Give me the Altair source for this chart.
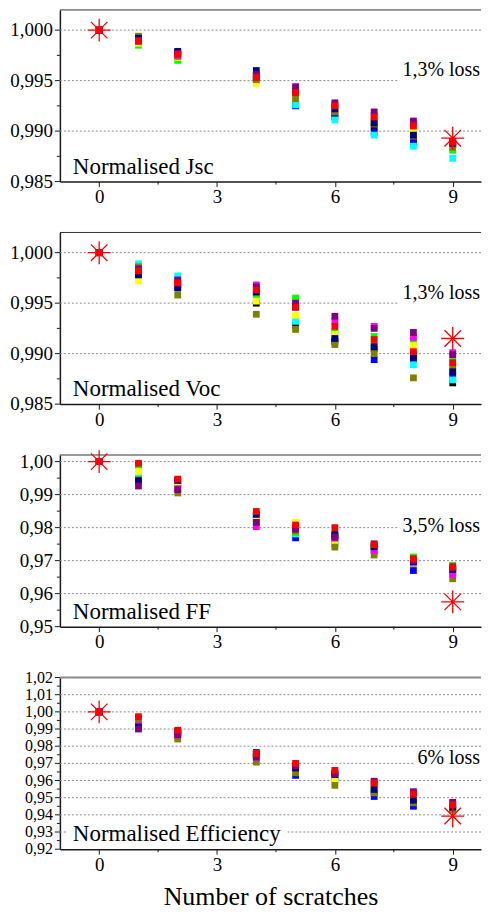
import altair as alt
import pandas as pd

X_SCRATCHES = [0, 1, 2, 4, 5, 6, 7, 8, 9]
SERIES = ["black", "blue", "cyan", "green", "yellow", "olive", "magenta", "navy", "purple", "red"]
COLORS = ["#000000", "#0000FF", "#00FFFF", "#00FF00", "#FFFF00", "#808000", "#FF00FF", "#000080", "#800080", "#FF0000"]

JSC = {
    "black":   [1.0, 0.9988, 0.9978, 0.9952, 0.9936, 0.9917, 0.9904, 0.9890, 0.9887],
    "blue":    [1.0, 0.9988, 0.9976, 0.9955, 0.9925, 0.9914, 0.9899, 0.9889, 0.9887],
    "cyan":    [1.0, 0.9987, 0.9973, 0.9950, 0.9926, 0.9911, 0.9896, 0.9885, 0.9873],
    "green":   [1.0, 0.9985, 0.9970, 0.9950, 0.9934, 0.9923, 0.9910, 0.9898, 0.9881],
    "yellow":  [1.0, 0.9987, 0.9973, 0.9947, 0.9936, 0.9922, 0.9911, 0.9902, 0.9886],
    "olive":   [1.0, 0.9994, 0.9974, 0.9951, 0.9932, 0.9919, 0.9907, 0.9895, 0.9884],
    "magenta": [1.0, 0.9989, 0.9975, 0.9954, 0.9942, 0.9926, 0.9915, 0.9908, 0.9889],
    "navy":    [1.0, 0.9992, 0.9979, 0.9960, 0.9939, 0.9922, 0.9908, 0.9896, 0.9888],
    "purple":  [1.0, 0.9990, 0.9977, 0.9956, 0.9944, 0.9928, 0.9919, 0.9910, 0.9890],
    "red":     [1.0, 0.9989, 0.9976, 0.9953, 0.9938, 0.9925, 0.9914, 0.9905, 0.9889],
}
VOC = {
    "black":   [1.0, 0.9979, 0.9968, 0.9950, 0.9928, 0.9912, 0.9905, 0.9899, 0.9871],
    "blue":    [1.0, 0.9978, 0.9966, 0.9960, 0.9946, 0.9914, 0.9894, 0.9894, 0.9879],
    "cyan":    [1.0, 0.9989, 0.9977, 0.9957, 0.9932, 0.9922, 0.9908, 0.9889, 0.9874],
    "green":   [1.0, 0.9980, 0.9970, 0.9958, 0.9955, 0.9921, 0.9917, 0.9912, 0.9894],
    "yellow":  [1.0, 0.9972, 0.9969, 0.9952, 0.9938, 0.9919, 0.9911, 0.9908, 0.9885],
    "olive":   [1.0, 0.9986, 0.9958, 0.9939, 0.9924, 0.9909, 0.9900, 0.9876, 0.9887],
    "magenta": [1.0, 0.9983, 0.9972, 0.9968, 0.9949, 0.9932, 0.9927, 0.9916, 0.9901],
    "navy":    [1.0, 0.9978, 0.9965, 0.9961, 0.9947, 0.9915, 0.9907, 0.9896, 0.9882],
    "purple":  [1.0, 0.9984, 0.9973, 0.9966, 0.9950, 0.9937, 0.9925, 0.9921, 0.9899],
    "red":     [1.0, 0.9982, 0.9970, 0.9963, 0.9946, 0.9927, 0.9914, 0.9902, 0.9891],
}
FF = {
    "black":   [1.0, 0.9988, 0.9940, 0.9836, 0.9802, 0.9779, 0.9745, 0.9698, 0.9675],
    "blue":    [1.0, 0.9950, 0.9932, 0.9838, 0.9769, 0.9763, 0.9733, 0.9670, 0.9663],
    "cyan":    [1.0, 0.9961, 0.9930, 0.9830, 0.9781, 0.9750, 0.9738, 0.9697, 0.9670],
    "green":   [1.0, 0.9985, 0.9920, 0.9820, 0.9785, 0.9752, 0.9740, 0.9711, 0.9686],
    "yellow":  [1.0, 0.9970, 0.9925, 0.9825, 0.9816, 0.9757, 0.9735, 0.9694, 0.9665],
    "olive":   [1.0, 0.9945, 0.9905, 0.9815, 0.9790, 0.9741, 0.9717, 0.9692, 0.9645],
    "magenta": [1.0, 0.9940, 0.9918, 0.9803, 0.9796, 0.9768, 0.9730, 0.9695, 0.9658],
    "navy":    [1.0, 0.9942, 0.9943, 0.9840, 0.9800, 0.9777, 0.9742, 0.9697, 0.9673],
    "purple":  [1.0, 0.9926, 0.9915, 0.9816, 0.9795, 0.9771, 0.9751, 0.9701, 0.9678],
    "red":     [1.0, 0.9995, 0.9947, 0.9849, 0.9808, 0.9800, 0.9748, 0.9706, 0.9682],
}
EFF = {
    "black":   [1.0, 0.9960, 0.9882, 0.9752, 0.9667, 0.9628, 0.9540, 0.9478, 0.9435],
    "blue":    [1.0, 0.9930, 0.9878, 0.9750, 0.9630, 0.9620, 0.9507, 0.9450, 0.9432],
    "cyan":    [1.0, 0.9952, 0.9875, 0.9740, 0.9660, 0.9612, 0.9555, 0.9495, 0.9440],
    "green":   [1.0, 0.9948, 0.9860, 0.9730, 0.9655, 0.9605, 0.9560, 0.9490, 0.9438],
    "yellow":  [1.0, 0.9945, 0.9855, 0.9722, 0.9650, 0.9600, 0.9567, 0.9510, 0.9450],
    "olive":   [1.0, 0.9935, 0.9842, 0.9707, 0.9645, 0.9572, 0.9528, 0.9470, 0.9428],
    "magenta": [1.0, 0.9920, 0.9865, 0.9735, 0.9684, 0.9648, 0.9590, 0.9528, 0.9465],
    "navy":    [1.0, 0.9912, 0.9886, 0.9763, 0.9673, 0.9635, 0.9548, 0.9485, 0.9445],
    "purple":  [1.0, 0.9900, 0.9867, 0.9737, 0.9686, 0.9640, 0.9596, 0.9535, 0.9473],
    "red":     [1.0, 0.9972, 0.9893, 0.9758, 0.9700, 0.9659, 0.9585, 0.9520, 0.9458],
}

STAR_X = [0, 9]
STAR_JSC = [1.0, 0.9893]
STAR_VOC = [1.0, 0.9915]
STAR_FF = [1.0, 0.9575]
STAR_EFF = [1.0, 0.9393]

PANEL_LABELS = ["Normalised Jsc", "Normalised Voc", "Normalised FF", "Normalised Efficiency"]
LOSS_LABELS = ["1,3% loss", "1,3% loss", "3,5% loss", "6% loss"]
Y_DOMAINS = [[0.985, 1.002], [0.985, 1.002], [0.95, 1.002], [0.92, 1.02]]

MAJOR_A = [0.985, 0.99, 0.995, 1.0]
MINOR_A = [0.9875, 0.9925, 0.9975]
GRID_A = [0.99, 0.995, 1.0]
MAJOR_B = [0.95, 0.96, 0.97, 0.98, 0.99, 1.0]
MINOR_B = [0.955, 0.965, 0.975, 0.985, 0.995]
GRID_B = [0.96, 0.97, 0.98, 0.99, 1.0]
MAJOR_C = [0.92, 0.93, 0.94, 0.95, 0.96, 0.97, 0.98, 0.99, 1.0, 1.01, 1.02]
MINOR_C = [0.925, 0.935, 0.945, 0.955, 0.965, 0.975, 0.985, 0.995, 1.005, 1.015]
GRID_C = [0.93, 0.94, 0.95, 0.96, 0.97, 0.98, 0.99, 1.0, 1.01]

X_MAJOR = [0, 3, 6, 9]
X_MINOR = [1.5, 4.5, 7.5]
X_TITLE = "Number of scratches"

W = 422
H = 172
FONT = "Liberation Serif"
STAR_PATH = "M-1,0L1,0M0,-1L0,1M-0.72,-0.72L0.72,0.72M-0.72,0.72L0.72,-0.72"


def panel(vals, star_y, label, loss, ydom, major, minor, grid, fmt, label_size,
          loss_base, loss_w, label_box, show_title):
    rows = []
    for s in SERIES:
        for xv, yv in zip(X_SCRATCHES, vals[s]):
            rows.append({"x": xv, "value": yv, "series": s})
    df = pd.DataFrame(rows)
    star_df = pd.DataFrame({"x": STAR_X, "value": star_y})
    grid_df = pd.DataFrame({"value": grid})
    minor_df = pd.DataFrame({"value": minor})
    major_df = pd.DataFrame({"value": major,
                             "lab": [format(v, fmt).replace(".", ",") for v in major]})
    xminor_df = pd.DataFrame({"x": X_MINOR})
    top_df = pd.DataFrame({"value": [ydom[1]]})
    one = pd.DataFrame({"a": [0]})

    xscale = alt.Scale(domain=[-1, 9.72], nice=False)
    yscale = alt.Scale(domain=ydom, nice=False, zero=False)
    xaxis = alt.Axis(
        values=X_MAJOR, format="d", tickSize=5, labelOverlap=False, grid=False,
        title=X_TITLE if show_title else None,
    )
    yaxis = alt.Axis(labels=False, ticks=False, grid=False, domain=True, title=None)

    gridlines = alt.Chart(grid_df).mark_rule(color="#8c8c8c", strokeWidth=1, strokeDash=[2, 2]).encode(
        y=alt.Y("value:Q", scale=yscale, axis=yaxis), x=alt.value(0), x2=alt.value(W)
    )
    ymajor = alt.Chart(major_df).mark_rule(color="#1a1a1a", strokeWidth=1).encode(
        y=alt.Y("value:Q"), x=alt.value(-5), x2=alt.value(0)
    )
    ylabels = alt.Chart(major_df).mark_text(
        align="right", baseline="middle", font=FONT, fontSize=label_size, color="black"
    ).encode(y=alt.Y("value:Q"), x=alt.value(-7), text="lab:N")
    yminor = alt.Chart(minor_df).mark_rule(color="#1a1a1a", strokeWidth=1).encode(
        y=alt.Y("value:Q"), x=alt.value(-3), x2=alt.value(0)
    )
    xminor = alt.Chart(xminor_df).mark_rule(color="#1a1a1a", strokeWidth=1).encode(
        x=alt.X("x:Q", scale=xscale, axis=xaxis), y=alt.value(H), y2=alt.value(H + 3)
    )
    top_color = "#8a8a8a" if show_title else "#333333"
    top_w = 2 if show_title else 1
    border = alt.Chart(top_df).mark_rule(color=top_color, strokeWidth=top_w).encode(
        y=alt.Y("value:Q"), x=alt.value(0), x2=alt.value(W)
    )
    loss_box = alt.Chart(one).mark_rect(color="white").encode(
        x=alt.value(W - 4 - loss_w), x2=alt.value(W),
        y=alt.value(loss_base - 16), y2=alt.value(loss_base + 6),
    )
    pts = alt.Chart(df).mark_square(size=46, opacity=1).encode(
        x=alt.X("x:Q"),
        y=alt.Y("value:Q"),
        color=alt.Color("series:N", scale=alt.Scale(domain=SERIES, range=COLORS), legend=None),
    )
    layers = [gridlines, ymajor, ylabels, yminor, xminor, border, loss_box]
    if label_box:
        layers.append(alt.Chart(one).mark_rect(color="white").encode(
            x=alt.value(8), x2=alt.value(label_box), y=alt.value(148), y2=alt.value(169)
        ))
    layers.append(pts)
    stars = alt.Chart(star_df).mark_point(
        shape=STAR_PATH, filled=False, size=529, color="#FF0000", strokeWidth=1.3, opacity=1
    ).encode(x=alt.X("x:Q"), y=alt.Y("value:Q"))
    layers.append(stars)
    txt = alt.Chart(one).mark_text(
        align="left", baseline="alphabetic", font=FONT, fontSize=23, color="black"
    ).encode(x=alt.value(13), y=alt.value(164), text=alt.value(label))
    loss_txt = alt.Chart(one).mark_text(
        align="right", baseline="alphabetic", font=FONT, fontSize=20, color="black"
    ).encode(x=alt.value(W - 1), y=alt.value(loss_base), text=alt.value(loss))
    layers.append(txt)
    layers.append(loss_txt)
    return alt.layer(*layers).properties(width=W, height=H)


p1 = panel(JSC, STAR_JSC, PANEL_LABELS[0], LOSS_LABELS[0], Y_DOMAINS[0], MAJOR_A, MINOR_A, GRID_A, ".3f", 19, 66, 80, None, False)
p2 = panel(VOC, STAR_VOC, PANEL_LABELS[1], LOSS_LABELS[1], Y_DOMAINS[1], MAJOR_A, MINOR_A, GRID_A, ".3f", 19, 67, 80, None, False)
p3 = panel(FF, STAR_FF, PANEL_LABELS[2], LOSS_LABELS[2], Y_DOMAINS[2], MAJOR_B, MINOR_B, GRID_B, ".2f", 19, 77, 80, None, False)
p4 = panel(EFF, STAR_EFF, PANEL_LABELS[3], LOSS_LABELS[3], Y_DOMAINS[3], MAJOR_C, MINOR_C, GRID_C, ".2f", 16, 87, 64, 228, True)

chart = alt.vconcat(p1, p2, p3, p4, spacing=51, bounds="flush").properties(
    padding={"left": 2, "top": 0, "right": 0, "bottom": 0}
).configure_view(strokeOpacity=0).configure_axis(
    labelFont=FONT, labelFontSize=19, labelColor="black",
    domainColor="#1a1a1a", domainWidth=1.5, tickColor="#1a1a1a", tickWidth=1,
    titleFont=FONT, titleFontSize=26, titleFontWeight="normal", titleColor="black",
).configure_axisX(labelPadding=1, titlePadding=9)

chart.save("out.html", embed_options={"renderer": "svg", "actions": False})
